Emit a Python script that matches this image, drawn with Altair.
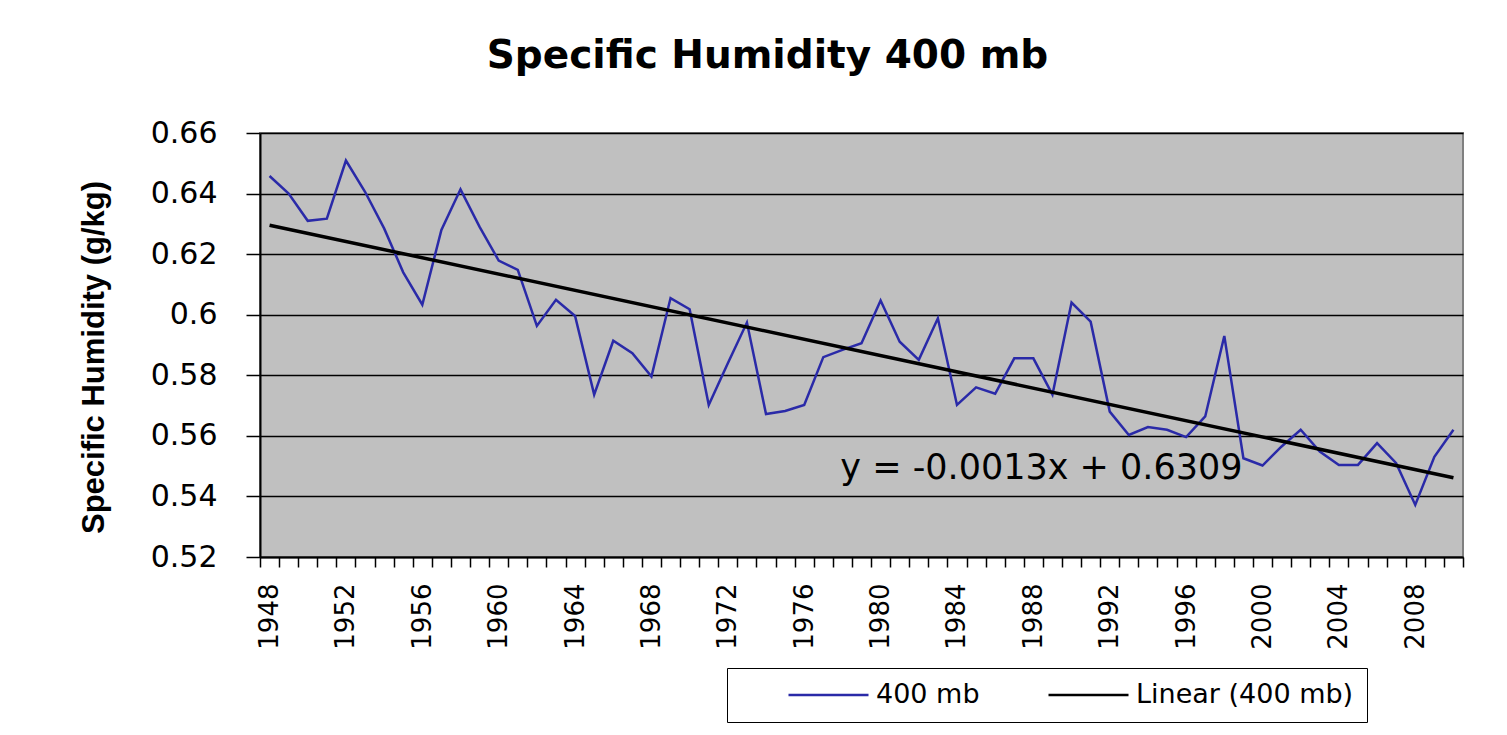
import altair as alt
import pandas as pd

# ---- data ----
years = list(range(1948, 2011))
humidity = [
    0.6458, 0.6400, 0.6310, 0.6317, 0.6509, 0.6406, 0.6285, 0.6140, 0.6033, 0.6280,
    0.6414, 0.6290, 0.6179, 0.6148, 0.5963, 0.6049, 0.5996, 0.5736, 0.5914, 0.5873,
    0.5796, 0.6055, 0.6018, 0.5702, 0.5840, 0.5974, 0.5672, 0.5682, 0.5702, 0.5860,
    0.5884, 0.5906, 0.6047, 0.5911, 0.5851, 0.5988, 0.5702, 0.5760, 0.5739, 0.5856,
    0.5856, 0.5736, 0.6040, 0.5977, 0.5680, 0.5603, 0.5629, 0.5620, 0.5596, 0.5664,
    0.5930, 0.5526, 0.5502, 0.5565, 0.5620, 0.5548, 0.5504, 0.5504, 0.5576, 0.5510,
    0.5372, 0.5531, 0.5620,
]
series_names = ["400 mb", "Linear (400 mb)"]
series_colors = ["#2a2aa8", "#000000"]
y_ticks = [0.52, 0.54, 0.56, 0.58, 0.60, 0.62, 0.64, 0.66]
eq_label = ["y = -0.0013x + 0.6309"]
eq_year = [1989]
eq_value = [0.5495]

df = pd.DataFrame({"year": years, "value": humidity})
eq_df = pd.DataFrame({"year": eq_year, "value": eq_value, "label": eq_label})

x_axis = alt.Axis(
    title=None, labelAngle=-90, labelAlign="right", labelBaseline="middle",
    labelExpr="datum.value % 4 == 0 ? datum.label : ''",
    labelOverlap=False, tickBand="extent", tickSize=10, tickColor="black",
    tickWidth=1.5, domainColor="black", domainWidth=2, grid=False,
    labelFont="DejaVu Sans", labelFontSize=26, labelColor="black", labelPadding=16,
)
x_enc = alt.X(
    "year:O", bandPosition=0.5,
    scale=alt.Scale(type="band", paddingInner=0, paddingOuter=0),
    axis=x_axis,
)
y_enc = alt.Y(
    "value:Q",
    scale=alt.Scale(domain=[0.52, 0.66], nice=False, zero=False),
    axis=alt.Axis(
        values=y_ticks, format=".2~f", title="Specific Humidity (g/kg)",
        titleFont="Liberation Sans", titleFontWeight="bold", titleFontSize=31,
        titleColor="black", titleAngle=-90, titleX=-166, titleY=224,
        titleAlign="center", titleBaseline="middle",
        labelFont="DejaVu Sans", labelFontSize=30, labelColor="black",
        labelPadding=29, tickSize=14, tickColor="black", tickWidth=1.5,
        gridColor="black", gridWidth=1.5, domainColor="black", domainWidth=2,
    ),
)
color_enc = alt.Color(
    "series:N",
    scale=alt.Scale(domain=series_names, range=series_colors),
    legend=alt.Legend(
        title=None, orient="none", legendX=467, legendY=535,
        direction="horizontal", symbolType="stroke", symbolSize=6400,
        symbolStrokeWidth=2.5, labelFont="DejaVu Sans", labelFontSize=27,
        labelColor="black", labelOffset=6, labelLimit=500, columnPadding=20,
        padding=13, gridAlign="none", strokeColor="black", fillColor="white",
        symbolOffset=47, clipHeight=28,
    ),
)

base = alt.Chart(df)
data_line = base.transform_calculate(series='"400 mb"').mark_line(
    strokeWidth=2.5
).encode(x=x_enc, y=y_enc, color=color_enc)

trend = base.transform_regression("year", "value").transform_calculate(
    series='"Linear (400 mb)"'
).mark_line(strokeWidth=3.5).encode(x=x_enc, y=y_enc, color=color_enc)

eq_text = alt.Chart(eq_df).mark_text(
    font="DejaVu Sans", fontSize=35, color="black", align="center",
    baseline="middle", dx=-11,
).encode(x=x_enc, y=y_enc, text="label:N")

chart = alt.layer(data_line, trend, eq_text).properties(
    width=1203, height=424,
    title=alt.TitleParams(
        "Specific Humidity 400 mb", font="DejaVu Sans", fontSize=39,
        fontWeight="bold", color="black", anchor="middle", frame="group",
        dx=-94, offset=42,
    ),
    autosize=alt.AutoSizeParams(type="none"),
    padding={"left": 252, "top": 125, "right": 36, "bottom": 170},
    background="white",
).configure_view(fill="#c0c0c0", stroke="#808080", strokeWidth=2)

chart.save("out.html", embed_options={"renderer": "svg", "actions": False})
